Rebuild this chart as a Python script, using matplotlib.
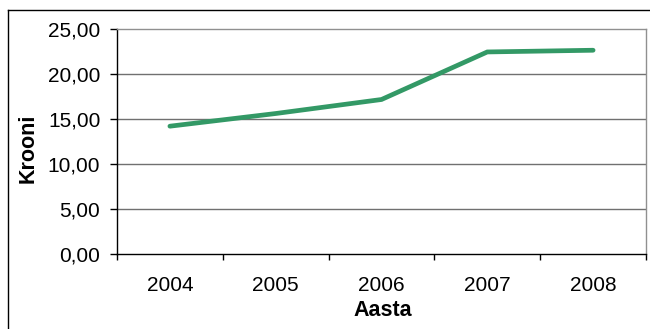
import matplotlib
matplotlib.use("Agg")
import matplotlib.pyplot as plt
from matplotlib.lines import Line2D

years = ["2004", "2005", "2006", "2007", "2008"]
values = [14.22, 15.63, 17.19, 22.48, 22.67]
yticks = [0, 5, 10, 15, 20, 25]
ytick_labels = ["0,00", "5,00", "10,00", "15,00", "20,00", "25,00"]

plt.rcParams['font.family'] = ['Liberation Sans', 'DejaVu Sans']

W, H = 650, 329
fig = plt.figure(figsize=(W / 100, H / 100), dpi=100)
fig.patch.set_facecolor('white')

L, R, T, B = 117, 646, 29.3, 254
ax = fig.add_axes([L / W, (H - B) / H, (R - L) / W, (B - T) / H])

x = list(range(len(years)))
ax.plot(x, values, color='#339966', lw=3.4, solid_capstyle='round', solid_joinstyle='miter', zorder=3)

ax.set_xlim(-0.5, len(years) - 0.5)
ax.set_ylim(0, 25)
ax.set_yticks(yticks)
ax.set_yticklabels(ytick_labels, fontsize=15)
ax.tick_params(axis='y', length=5, width=1, color='black', pad=7, direction='out')

ax.set_xticks([i - 0.5 for i in range(len(years) + 1)])
ax.set_xticklabels([''] * (len(years) + 1))
ax.set_xticks(x, minor=True)
ax.set_xticklabels(years, minor=True, fontsize=15)
ax.tick_params(axis='x', which='major', length=4, width=1, color='black', direction='out')
ax.tick_params(axis='x', which='minor', length=0, pad=16)

for yv in yticks[1:-1]:
    ax.axhline(yv, color='#707070', lw=1.0, zorder=1)

ax.spines['left'].set_color('black')
ax.spines['bottom'].set_color('black')
ax.spines['top'].set_color('#909090')
ax.spines['right'].set_color('#909090')
for s in ax.spines.values():
    s.set_linewidth(1.0)

ax.set_ylabel('Krooni', fontsize=15.5, fontweight='bold', va='center')
ax.yaxis.set_label_coords((28 - L) / (R - L), (B - 148) / (B - T))
ax.set_xlabel('Aasta', fontsize=15.5, fontweight='bold', va='center')
ax.xaxis.set_label_coords((383 - L) / (R - L), (B - 310) / (B - T))

# outer chart frame
fig.add_artist(Line2D([8 / W, 8 / W], [0, (H - 10) / H], transform=fig.transFigure, color='black', lw=1.0))
fig.add_artist(Line2D([8 / W, 1.0], [(H - 10) / H, (H - 10) / H], transform=fig.transFigure, color='black', lw=1.0))

fig.savefig('out.png', dpi=100, facecolor='white')
